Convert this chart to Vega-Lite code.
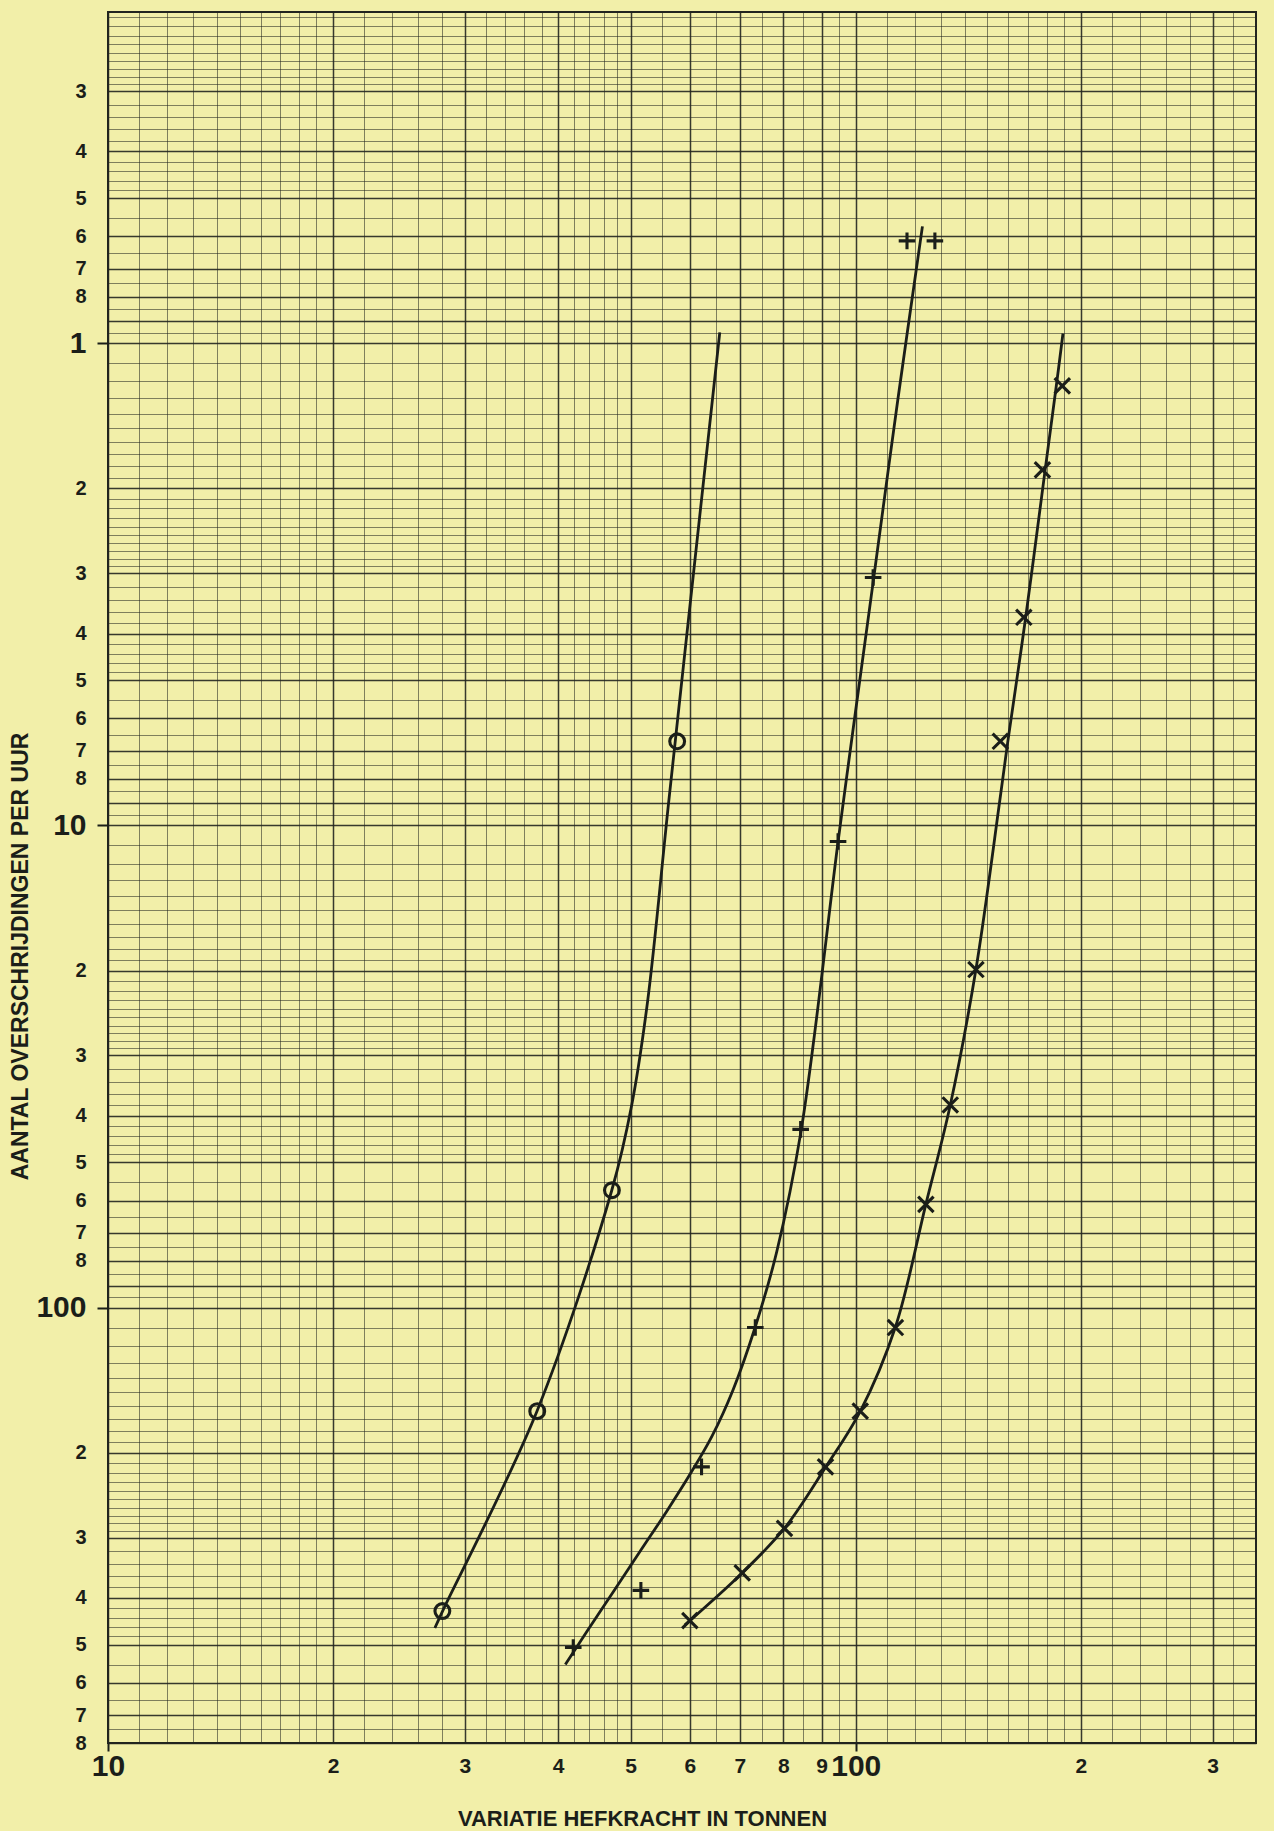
{
  "$schema": "https://vega.github.io/schema/vega-lite/v6.json",
  "width": 1148,
  "height": 1731,
  "autosize": {"type": "none"},
  "padding": {"left": 108, "top": 12, "right": 18, "bottom": 88},
  "background": "#f2efa9",
  "config": {"view": {"stroke": "#22251f", "strokeWidth": 2, "fill": "#f2efa9"}},
  "datasets": {
    "points": [
      {"series": "circle", "x": 28.0, "y": 426},
      {"series": "circle", "x": 37.5, "y": 164},
      {"series": "circle", "x": 47.2, "y": 57.1},
      {"series": "circle", "x": 57.7, "y": 6.69},
      {"series": "plus", "x": 41.9, "y": 507},
      {"series": "plus", "x": 51.6, "y": 386},
      {"series": "plus", "x": 62.2, "y": 214},
      {"series": "plus", "x": 73.4, "y": 110},
      {"series": "plus", "x": 84.4, "y": 42.7},
      {"series": "plus", "x": 94.7, "y": 10.8},
      {"series": "plus", "x": 105.5, "y": 3.06},
      {"series": "plus", "x": 117.1, "y": 0.613},
      {"series": "plus", "x": 127.6, "y": 0.613},
      {"series": "cross", "x": 60.0, "y": 446},
      {"series": "cross", "x": 70.5, "y": 355},
      {"series": "cross", "x": 80.3, "y": 287},
      {"series": "cross", "x": 91.1, "y": 214},
      {"series": "cross", "x": 101.4, "y": 164},
      {"series": "cross", "x": 113.0, "y": 110},
      {"series": "cross", "x": 124.1, "y": 61.1},
      {"series": "cross", "x": 133.8, "y": 38.0},
      {"series": "cross", "x": 144.8, "y": 19.9},
      {"series": "cross", "x": 156.1, "y": 6.69},
      {"series": "cross", "x": 167.8, "y": 3.70},
      {"series": "cross", "x": 177.7, "y": 1.83},
      {"series": "cross", "x": 188.9, "y": 1.225}
    ],
    "curves": [
      {"series": "circle", "x": 27.36, "y": 462},
      {"series": "circle", "x": 28.02, "y": 426},
      {"series": "circle", "x": 37.47, "y": 164},
      {"series": "circle", "x": 47.18, "y": 57.1},
      {"series": "circle", "x": 50.19, "y": 37.85},
      {"series": "circle", "x": 52.68, "y": 23.16},
      {"series": "circle", "x": 56.23, "y": 8.9},
      {"series": "circle", "x": 60.83, "y": 2.893},
      {"series": "circle", "x": 65.79, "y": 0.949},
      {"series": "plus", "x": 40.89, "y": 550},
      {"series": "plus", "x": 43.65, "y": 471},
      {"series": "plus", "x": 47.38, "y": 389},
      {"series": "plus", "x": 51.43, "y": 321},
      {"series": "plus", "x": 55.83, "y": 265},
      {"series": "plus", "x": 60.0, "y": 222},
      {"series": "plus", "x": 64.21, "y": 185},
      {"series": "plus", "x": 68.55, "y": 148},
      {"series": "plus", "x": 73.38, "y": 109.7},
      {"series": "plus", "x": 78.42, "y": 76.5},
      {"series": "plus", "x": 84.55, "y": 42.8},
      {"series": "plus", "x": 94.74, "y": 10.76},
      {"series": "plus", "x": 99.08, "y": 6.4},
      {"series": "plus", "x": 105.7, "y": 3.064},
      {"series": "plus", "x": 113.8, "y": 1.314},
      {"series": "plus", "x": 122.8, "y": 0.572},
      {"series": "cross", "x": 59.07, "y": 455.6},
      {"series": "cross", "x": 70.55, "y": 354.7},
      {"series": "cross", "x": 80.31, "y": 286.8},
      {"series": "cross", "x": 91.1, "y": 214.5},
      {"series": "cross", "x": 101.4, "y": 164.1},
      {"series": "cross", "x": 113.0, "y": 109.7},
      {"series": "cross", "x": 124.1, "y": 61.06},
      {"series": "cross", "x": 133.8, "y": 38.0},
      {"series": "cross", "x": 144.8, "y": 19.87},
      {"series": "cross", "x": 155.8, "y": 8.9},
      {"series": "cross", "x": 159.7, "y": 6.71},
      {"series": "cross", "x": 168.8, "y": 3.692},
      {"series": "cross", "x": 179.2, "y": 1.828},
      {"series": "cross", "x": 185.4, "y": 1.229},
      {"series": "cross", "x": 189.3, "y": 0.954}
    ]
  },
  "encoding": {
    "x": {
      "field": "x",
      "type": "quantitative",
      "scale": {"type": "log", "domain": [10, 343], "nice": false, "zero": false},
      "axis": {
        "orient": "bottom",
        "values": [10,11,12,13,14,15,16,17,18,19,20,22,24,26,28,30,32,34,36,38,40,42,44,46,48,50,55,60,65,70,75,80,85,90,95,100,110,120,130,140,150,160,170,180,190,200,220,240,260,280,300,320],
        "grid": true,
        "gridColor": "#22251f",
        "gridWidth": {"condition": {"test": "abs(datum.value/pow(10,floor(log(datum.value)/LN10+1e-9))-round(datum.value/pow(10,floor(log(datum.value)/LN10+1e-9))))<1e-6", "value": 1.5}, "value": 0.9},
        "gridOpacity": {"condition": {"test": "abs(datum.value/pow(10,floor(log(datum.value)/LN10+1e-9))-round(datum.value/pow(10,floor(log(datum.value)/LN10+1e-9))))<1e-6", "value": 0.9}, "value": 0.62},
        "domain": false,
        "ticks": true,
        "tickSize": 8,
        "tickWidth": 2,
        "tickColor": "#1b1e19",
        "tickOpacity": {"condition": {"test": "abs(log(datum.value)/LN10-round(log(datum.value)/LN10))<1e-6", "value": 1}, "value": 0},
        "labelExpr": "abs(datum.value/pow(10,floor(log(datum.value)/LN10+1e-9))-round(datum.value/pow(10,floor(log(datum.value)/LN10+1e-9))))<1e-6 ? (abs(log(datum.value)/LN10-round(log(datum.value)/LN10))<1e-6 ? toString(datum.value) : toString(round(datum.value/pow(10,floor(log(datum.value)/LN10+1e-9))))) : ''",
        "labelFont": "Liberation Sans, sans-serif",
        "labelFontWeight": "bold",
        "labelFontSize": {"condition": {"test": "abs(log(datum.value)/LN10-round(log(datum.value)/LN10))<1e-6", "value": 30}, "value": 21},
        "labelColor": "#1b1e19",
        "labelPadding": 15,
        "labelBaseline": "middle",
        "labelFlush": false,
        "labelOverlap": false,
        "labelBound": false,
        "title": "VARIATIE HEFKRACHT IN TONNEN",
        "titleX": 534,
        "titleY": 75,
        "titleAlign": "center",
        "titleBaseline": "middle",
        "titleFont": "Liberation Sans, sans-serif",
        "titleFontSize": 22,
        "titleFontWeight": "bold",
        "titleColor": "#1b1e19"
      }
    },
    "y": {
      "field": "y",
      "type": "quantitative",
      "scale": {"type": "log", "domain": [0.2055, 800], "nice": false, "reverse": true},
      "axis": {
        "orient": "left",
        "values": [0.21,0.22,0.23,0.24,0.25,0.26,0.27,0.28,0.29,0.3,0.32,0.34,0.36,0.38,0.4,0.42,0.44,0.46,0.48,0.5,0.55,0.6,0.65,0.7,0.75,0.8,0.85,0.9,0.95,1,1.1,1.2,1.3,1.4,1.5,1.6,1.7,1.8,1.9,2,2.1,2.2,2.3,2.4,2.5,2.6,2.7,2.8,2.9,3,3.2,3.4,3.6,3.8,4,4.2,4.4,4.6,4.8,5,5.5,6,6.5,7,7.5,8,8.5,9,9.5,10,11,12,13,14,15,16,17,18,19,20,21,22,23,24,25,26,27,28,29,30,32,34,36,38,40,42,44,46,48,50,55,60,65,70,75,80,85,90,95,100,110,120,130,140,150,160,170,180,190,200,210,220,230,240,250,260,270,280,290,300,320,340,360,380,400,420,440,460,480,500,550,600,650,700,750,800],
        "grid": true,
        "gridColor": "#22251f",
        "gridWidth": {"condition": {"test": "abs(datum.value/pow(10,floor(log(datum.value)/LN10+1e-9))-round(datum.value/pow(10,floor(log(datum.value)/LN10+1e-9))))<1e-6", "value": 1.5}, "value": 0.9},
        "gridOpacity": {"condition": {"test": "abs(datum.value/pow(10,floor(log(datum.value)/LN10+1e-9))-round(datum.value/pow(10,floor(log(datum.value)/LN10+1e-9))))<1e-6", "value": 0.9}, "value": 0.62},
        "domain": false,
        "ticks": true,
        "tickSize": 11,
        "tickWidth": 2,
        "tickColor": "#1b1e19",
        "tickOpacity": {"condition": {"test": "abs(log(datum.value)/LN10-round(log(datum.value)/LN10))<1e-6", "value": 1}, "value": 0},
        "labelExpr": "abs(datum.value/pow(10,floor(log(datum.value)/LN10+1e-9))-round(datum.value/pow(10,floor(log(datum.value)/LN10+1e-9))))<1e-6 && round(datum.value/pow(10,floor(log(datum.value)/LN10+1e-9)))!=9 ? (abs(log(datum.value)/LN10-round(log(datum.value)/LN10))<1e-6 ? toString(datum.value) : toString(round(datum.value/pow(10,floor(log(datum.value)/LN10+1e-9))))) : ''",
        "labelFont": "Liberation Sans, sans-serif",
        "labelFontWeight": "bold",
        "labelFontSize": {"condition": {"test": "abs(log(datum.value)/LN10-round(log(datum.value)/LN10))<1e-6", "value": 30}, "value": 20},
        "labelColor": "#1b1e19",
        "labelPadding": 11,
        "labelAlign": "right",
        "labelBaseline": "middle",
        "labelFlush": false,
        "labelOverlap": false,
        "labelBound": false,
        "title": "AANTAL OVERSCHRIJDINGEN PER UUR",
        "titleX": -88,
        "titleY": 944,
        "titleAngle": -90,
        "titleAlign": "center",
        "titleBaseline": "middle",
        "titleFont": "Liberation Sans, sans-serif",
        "titleFontSize": 23,
        "titleFontWeight": "bold",
        "titleColor": "#1b1e19"
      }
    }
  },
  "layer": [
    {
      "data": {"name": "curves"},
      "mark": {"type": "line", "interpolate": "catmull-rom", "color": "#1b1e19", "strokeWidth": 2.8},
      "encoding": {"detail": {"field": "series", "type": "nominal"}}
    },
    {
      "data": {"name": "points"},
      "mark": {"type": "point", "filled": false, "color": "#1b1e19", "strokeWidth": 3.1, "opacity": 1},
      "encoding": {
        "shape": {"field": "series", "type": "nominal", "scale": {"domain": ["circle", "plus", "cross"], "range": ["circle", "M-1,0L1,0M0,-1L0,1", "M-0.85,-0.85L0.85,0.85M-0.85,0.85L0.85,-0.85"]}, "legend": null},
        "size": {"field": "series", "type": "nominal", "scale": {"domain": ["circle", "plus", "cross"], "range": [220, 330, 310]}, "legend": null}
      }
    }
  ]
}
